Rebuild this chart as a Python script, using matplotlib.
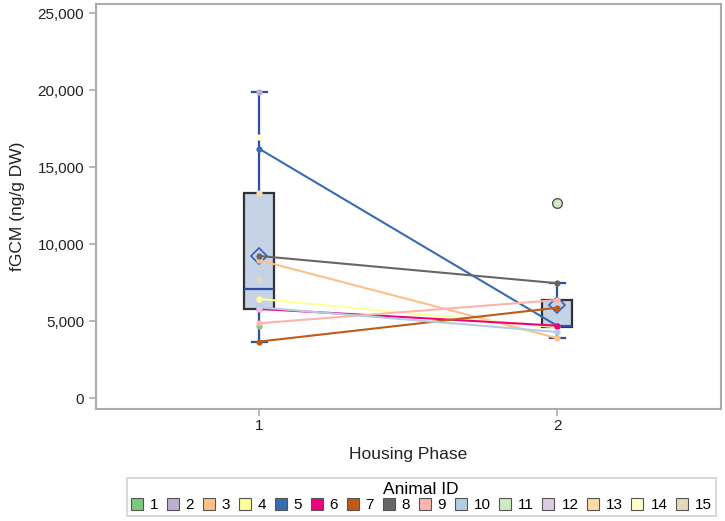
import numpy as np
import matplotlib
matplotlib.use("Agg")
import matplotlib.pyplot as plt
from matplotlib.lines import Line2D
from matplotlib.ticker import FuncFormatter

plt.rcParams['font.family'] = ['Liberation Sans', 'DejaVu Sans']

animal_ids = list(range(1, 16))
colors = ['#7fc97f', '#beaed4', '#fdc086', '#ffff99', '#386cb0', '#f0027f', '#bf5b17',
          '#666666', '#fbb4ae', '#b3cde3', '#ccebc5', '#decbe4', '#fed9a6', '#ffffcc', '#e5d8bd']
phases = [1, 2]
# fGCM (ng/g DW) per animal, phase 1 and phase 2 (nan = no sample)
phase1 = [4710, 19900, 8960, 6450, 16200, 5800, 3680, 9240, 4870, 5900, np.nan, 5780, 13300, 16950, 7750]
phase2 = [np.nan, np.nan, 3900, 4600, 4700, 4710, 5880, 7470, 6380, 4300, 12700, np.nan, np.nan, np.nan, np.nan]

def box_stats(vals, label):
    v = np.sort(np.array([x for x in vals if not np.isnan(x)]))
    q1, med, q3 = np.percentile(v, [25, 50, 75], method='averaged_inverted_cdf')
    iqr = q3 - q1
    lo_f, hi_f = q1 - 1.5 * iqr, q3 + 1.5 * iqr
    inside = v[(v >= lo_f) & (v <= hi_f)]
    return dict(med=med, q1=q1, q3=q3, whislo=inside.min(), whishi=inside.max(),
                mean=v.mean(), fliers=v[(v < lo_f) | (v > hi_f)], label=label)

fig = plt.figure(figsize=(7.25, 5.21), dpi=100)
ax = fig.add_axes([0.1324, 0.215, 0.862, 0.777])

stats = [box_stats(phase1, '1'), box_stats(phase2, '2')]
box_blue = '#2b4fa6'
ax.bxp(stats, positions=phases, widths=0.1, patch_artist=True, showmeans=True,
       showfliers=True,
       boxprops=dict(facecolor='#c6d2e6', edgecolor='#333333', linewidth=1.6),
       medianprops=dict(color=box_blue, linewidth=1.6),
       whiskerprops=dict(color=box_blue, linewidth=1.6),
       capprops=dict(color=box_blue, linewidth=1.6),
       capwidths=0.05,
       meanprops=dict(marker='D', markerfacecolor='none', markeredgecolor='#3a5fb8',
                      markersize=8, markeredgewidth=1.2),
       flierprops=dict(marker='o', markerfacecolor='#ccebc5', markeredgecolor='#555555',
                       markersize=7, markeredgewidth=1.0),
       zorder=1)

for i, aid in enumerate(animal_ids):
    ys = [phase1[i], phase2[i]]
    ax.plot(phases, ys, color=colors[i], lw=1.5, marker='o', markersize=4.5,
            markeredgewidth=0, zorder=3)

ax.set_xlim(0.452, 2.549)
ax.set_ylim(-700, 25600)
ax.set_yticks([0, 5000, 10000, 15000, 20000, 25000])
ax.yaxis.set_major_formatter(FuncFormatter(lambda v, p: f'{int(v):,}'))
ax.set_xticks(phases)
ax.set_xticklabels(['1', '2'])

spine_c = '#a8acb0'
for s in ax.spines.values():
    s.set_color(spine_c)
    s.set_linewidth(1.5)
ax.tick_params(axis='both', colors=spine_c, labelcolor='#222222', length=5, width=1.2,
               labelsize=11)
ax.tick_params(axis='x', pad=2)
ax.set_ylabel('fGCM (ng/g DW)', fontsize=12.5, color='#222222', labelpad=9)
ax.set_xlabel('Housing Phase', fontsize=12.5, color='#222222', labelpad=10)

handles = [Line2D([], [], linestyle='none', marker='s', markersize=8,
                  markerfacecolor=c, markeredgecolor='#555555', markeredgewidth=0.8)
           for c in colors]
leg = fig.legend(handles, [str(a) for a in animal_ids], ncol=15, loc='upper center',
                 bbox_to_anchor=(0.581, 0.0826), bbox_transform=fig.transFigure,
                 title='Animal ID', fontsize=11, title_fontsize=12.5, frameon=True,
                 fancybox=False, handlelength=0.8, handletextpad=0.45, columnspacing=0.55,
                 borderpad=0.25, borderaxespad=0)
leg.get_frame().set_edgecolor('#c8c8c8')
leg.get_frame().set_linewidth(1.2)
leg._legend_box.sep = 1

fig.savefig('out.png', dpi=100)
